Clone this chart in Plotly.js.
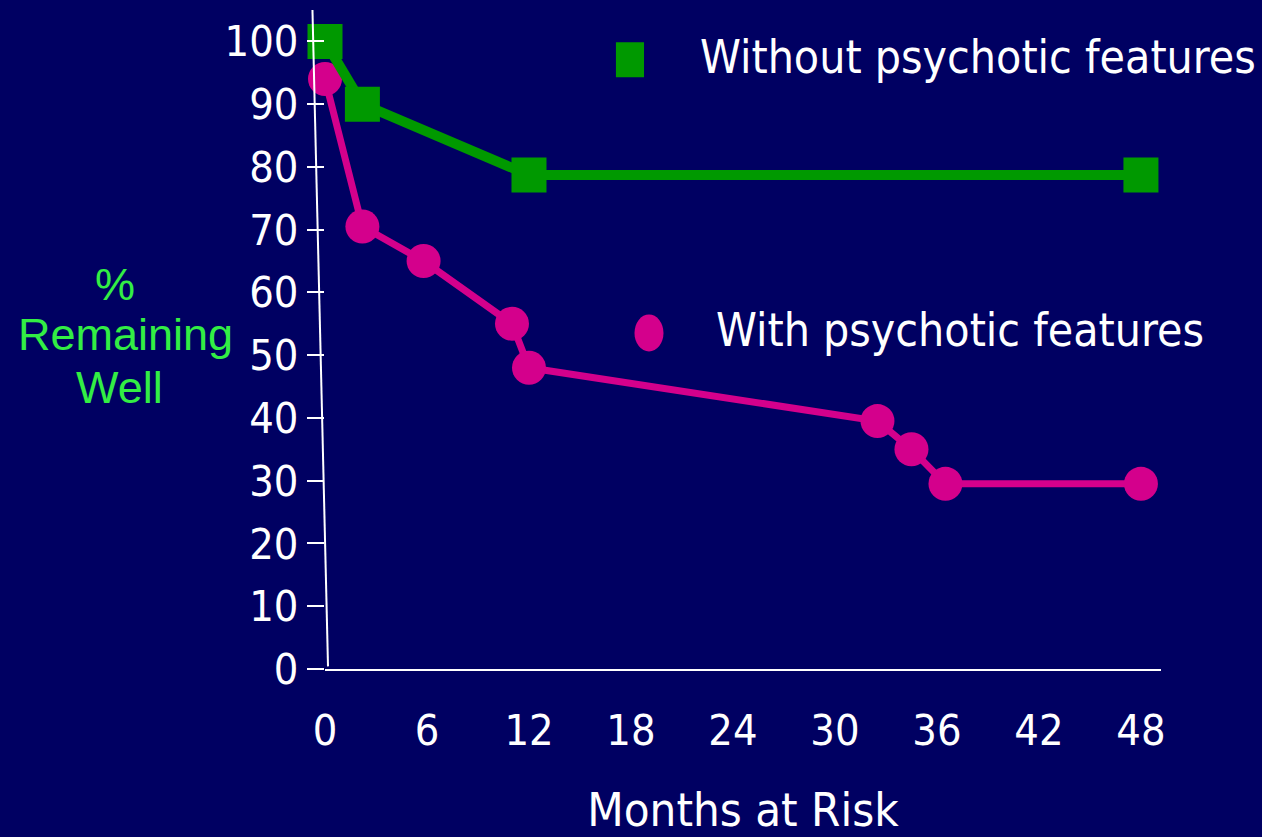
<!DOCTYPE html>
<html>
<head>
<meta charset="utf-8">
<script src="https://cdn.plot.ly/plotly-3.0.1.min.js"></script>
<style>
html,body{margin:0;padding:0;background:#000062;}
#chart{width:1262px;height:837px;}
</style>
</head>
<body>
<div id="chart"></div>
<script>
// Data
const monthsWithout = [0, 2.2, 12, 48];
const wellWithout = [100, 90, 78.7, 78.7];
const monthsWith = [0, 2.2, 5.8, 11, 12, 32.5, 34.5, 36.5, 48];
const wellWith = [94, 70.5, 65, 55, 48, 39.5, 35, 29.5, 29.5];

const seriesNames = ["Without psychotic features", "With psychotic features"];
const xTickVals = [0, 6, 12, 18, 24, 30, 36, 42, 48];
const xTickMarks = [6, 12, 18, 24, 30, 36, 42, 48];
const yTickVals = [0, 10, 20, 30, 40, 50, 60, 70, 80, 90, 100];
const yTitleLines = ["%", "Remaining", "Well"];
const xTitle = "Months at Risk";

const NARROW = "'Liberation Sans Narrow', 'Arial Narrow', 'DejaVu Sans Condensed', sans-serif";
const REG = "'Liberation Sans', Arial, sans-serif";
const BG = "#000062";
const GREEN = "#009900";
const PINK = "#d4008c";
const TGREEN = "#33ee44";

const traces = [
  {
    x: monthsWith, y: wellWith, name: seriesNames[1],
    mode: "lines+markers", type: "scatter", showlegend: false,
    line: {color: PINK, width: 7},
    marker: {symbol: "circle", size: 34, color: PINK},
    cliponaxis: false
  },
  {
    x: monthsWithout, y: wellWithout, name: seriesNames[0],
    mode: "lines+markers", type: "scatter", showlegend: false,
    line: {color: GREEN, width: 10},
    marker: {symbol: "square", size: 35, color: GREEN},
    cliponaxis: false
  }
];

const layout = {
  width: 1262, height: 837,
  paper_bgcolor: BG, plot_bgcolor: BG,
  margin: {l: 325, r: 101, t: 10, b: 168},
  showlegend: false,
  xaxis: {
    range: [0, 49.18], showgrid: false, zeroline: false,
    showline: true, linecolor: "#ffffff", linewidth: 2,
    tickmode: "array", tickvals: xTickVals, ticktext: xTickVals.map(String),
    ticks: "", ticklabelstandoff: 22,
    tickfont: {family: NARROW, size: 43, color: "#ffffff"},
    title: {text: xTitle, font: {family: NARROW, size: 47, color: "#ffffff"}, standoff: 52}
  },
  xaxis2: {
    overlaying: "x", anchor: "y", side: "bottom",
    range: [0, 49.18], showgrid: false, zeroline: false, showline: false,
    tickmode: "array", tickvals: xTickMarks, showticklabels: false,
    ticks: "outside", ticklen: 22, tickwidth: 2, tickcolor: "#ffffff"
  },
  yaxis: {
    range: [0, 105], showgrid: false, zeroline: false, showline: false,
    tickmode: "array", tickvals: yTickVals, ticktext: yTickVals.map(String),
    ticks: "outside", ticklen: 17, tickwidth: 2, tickcolor: "#ffffff",
    tickfont: {family: NARROW, size: 43, color: "#ffffff"}
  },
  shapes: [
    // slanted y axis line
    {type: "line", xref: "paper", yref: "paper", x0: -0.015, y0: 1.0, x1: 0.0036, y1: 0.004,
     line: {color: "#ffffff", width: 2}},
    // legend markers
    {type: "rect", xref: "paper", yref: "paper", x0: 0.348, x1: 0.3816, y0: 0.898, y1: 0.951,
     fillcolor: GREEN, line: {width: 0}},
    {type: "circle", xref: "paper", yref: "paper", x0: 0.3702, x1: 0.4049, y0: 0.4818, y1: 0.538,
     fillcolor: PINK, line: {width: 0}}
  ],
  annotations: [
    {xref: "paper", yref: "paper", x: 0.446, y: 0.9287, xanchor: "left", yanchor: "middle",
     text: seriesNames[0], showarrow: false, font: {family: NARROW, size: 46, color: "#ffffff"}},
    {xref: "paper", yref: "paper", x: 0.4653, y: 0.514, xanchor: "left", yanchor: "middle",
     text: seriesNames[1], showarrow: false, font: {family: NARROW, size: 46, color: "#ffffff"}},
    {xref: "paper", yref: "paper", x: -0.2512, y: 0.5836, xanchor: "center", yanchor: "middle",
     text: yTitleLines[0], showarrow: false, font: {family: REG, size: 45, color: TGREEN}},
    {xref: "paper", yref: "paper", x: -0.2392, y: 0.5077, xanchor: "center", yanchor: "middle",
     text: yTitleLines[1], showarrow: false, font: {family: REG, size: 45, color: TGREEN}},
    {xref: "paper", yref: "paper", x: -0.2464, y: 0.4273, xanchor: "center", yanchor: "middle",
     text: yTitleLines[2], showarrow: false, font: {family: REG, size: 45, color: TGREEN}}
  ]
};

Plotly.newPlot("chart", traces, layout, {displayModeBar: false, staticPlot: true});
</script>
</body>
</html>
